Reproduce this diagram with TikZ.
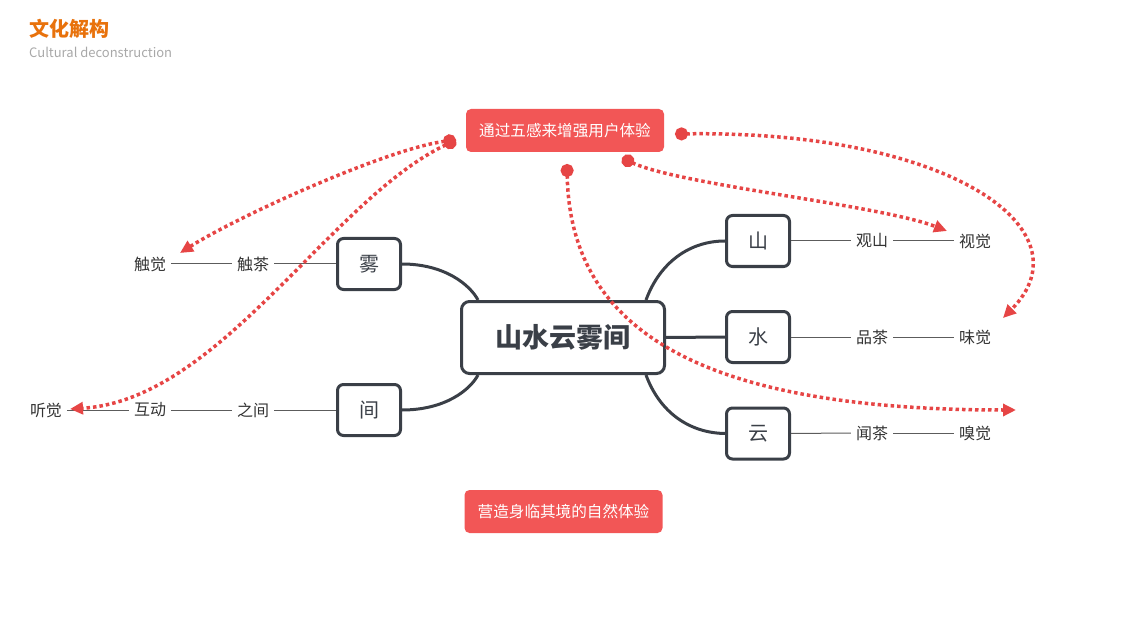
\documentclass[tikz,border=0pt]{standalone}
\usepackage{fontspec}
\setmainfont{Noto Sans CJK SC}
\usetikzlibrary{arrows.meta}
\definecolor{dark}{HTML}{3A3F47}
\definecolor{redbox}{HTML}{F25656}
\definecolor{reddot}{HTML}{E64545}
\definecolor{orangeT}{HTML}{E8720C}
\definecolor{greyT}{HTML}{A8A8A8}
\definecolor{labelT}{HTML}{333333}
\tikzset{
  mainbox/.style={draw=dark,line width=3pt,rounded corners=8pt,minimum width=203pt,minimum height=72pt,inner sep=0pt,font=\fontsize{27}{31}\selectfont\bfseries,text=dark},
  subbox/.style={draw=dark,line width=3pt,rounded corners=6pt,minimum width=63pt,minimum height=51pt,inner sep=0pt,font=\fontsize{20}{24}\selectfont,text=dark},
  redtag/.style={fill=redbox,rounded corners=5pt,minimum width=198pt,minimum height=43pt,inner sep=0pt,font=\fontsize{15.6}{18}\selectfont,text=white},
  lbl/.style={inner sep=0pt,font=\fontsize{16}{19}\selectfont,text=labelT},
  branch/.style={draw=dark,line width=3pt},
  thin/.style={draw=labelT!80,line width=1pt},
  senseline/.style={draw=reddot,line width=3.5pt,dash pattern=on 3.5pt off 3pt,{Circle[length=13pt,width=13pt]}-{Triangle[length=13pt,width=12pt]}},
}
\begin{document}
\begin{tikzpicture}[x=1pt,y=-1pt]
\useasboundingbox (0,0) rectangle (1122,631);
% title
\node[anchor=west,inner sep=0pt,font=\fontsize{20}{24}\selectfont\bfseries,text=orangeT] (title) at (29,29) {文化解构};
\node[anchor=west,inner sep=0pt,font=\fontsize{13}{15}\selectfont,text=greyT] (subtitle) at (29,52) {Cultural deconstruction};
% boxes
\node[mainbox] (c) at (563,337.5) {山水云雾间};
\node[subbox] (wu) at (369,264) {雾};
\node[subbox] (jian) at (369,410) {间};
\node[subbox] (shan) at (758,241) {山};
\node[subbox] (shui) at (758,337) {水};
\node[subbox] (yun) at (758,433.5) {云};
\node[redtag] (top) at (565,130.5) {通过五感来增强用户体验};
\node[redtag] (bot) at (563.5,511.5) {营造身临其境的自然体验};
% labels
\node[lbl] (chucha) at (253,264) {触茶};
\node[lbl] (chujue) at (150,264) {触觉};
\node[lbl] (zhijian) at (253,410) {之间};
\node[lbl] (hudong) at (150,410) {互动};
\node[lbl] (tingjue) at (46,410) {听觉};
\node[lbl] (guanshan) at (872,241) {观山};
\node[lbl] (shijue) at (975,241) {视觉};
\node[lbl] (pincha) at (872,337) {品茶};
\node[lbl] (weijue) at (975,337) {味觉};
\node[lbl] (wencha) at (872,433) {闻茶};
\node[lbl] (xiujue) at (975,433) {嗅觉};
% branches
\draw[branch] (wu.east) .. controls (445,264) and (470,285) .. ([xshift=18pt]c.north west);
\draw[branch] (jian.east) .. controls (445,410) and (470,390) .. ([xshift=18pt]c.south west);
\draw[branch] ([xshift=-20pt]c.north east) .. controls (660,262) and (690,241) .. (shan.west);
\draw[branch] ([xshift=-20pt]c.south east) .. controls (660,413) and (690,433) .. (yun.west);
\draw[branch] (c.east) -- (shui.west);
% thin lines
\draw[thin] (wu.west) -- ([xshift=5pt]chucha.east);
\draw[thin] ([xshift=-5pt]chucha.west) -- ([xshift=5pt]chujue.east);
\draw[thin] (jian.west) -- ([xshift=5pt]zhijian.east);
\draw[thin] ([xshift=-5pt]zhijian.west) -- ([xshift=5pt]hudong.east);
\draw[thin] ([xshift=-5pt]hudong.west) -- ([xshift=5pt]tingjue.east);
\draw[thin] (shan.east) -- ([xshift=-5pt]guanshan.west);
\draw[thin] ([xshift=5pt]guanshan.east) -- ([xshift=-5pt]shijue.west);
\draw[thin] (shui.east) -- ([xshift=-5pt]pincha.west);
\draw[thin] ([xshift=5pt]pincha.east) -- ([xshift=-5pt]weijue.west);
\draw[thin] (yun.east) -- ([xshift=-5pt]wencha.west);
\draw[thin] ([xshift=5pt]wencha.east) -- ([xshift=-5pt]xiujue.west);
% sense arrows
\coordinate (s1) at (456,140);
\coordinate (s3) at (622,158);
\coordinate (s4) at (675,134);
\coordinate (s5) at (567,164);
\coordinate (e1) at (180,253);
\coordinate (e2) at (70,409);
\coordinate (e3) at (947,231);
\coordinate (e4) at (1003,318);
\coordinate (e5) at (1016,410);
\draw[senseline] (s1) .. controls (390,148) and (240,215) .. (e1);
\draw[senseline] (s1) .. controls (330,200) and (220,400) .. (e2);
\draw[senseline] (s3) .. controls (680,185) and (880,205) .. (e3);
\draw[senseline] (s4) .. controls (950,130) and (1090,230) .. (e4);
\draw[senseline] (s5) .. controls (570,330) and (700,410) .. (e5);
\end{tikzpicture}
\end{document}
